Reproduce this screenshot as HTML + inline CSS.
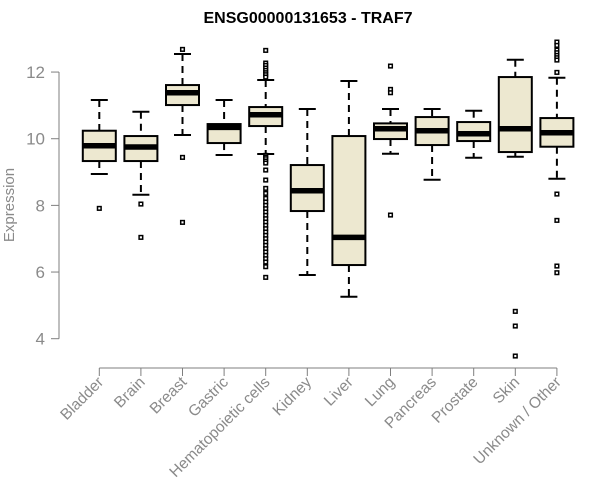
<!DOCTYPE html>
<html><head><meta charset="utf-8"><style>
body{margin:0;background:#fff;}
svg{display:block;font-family:"Liberation Sans",sans-serif;}
</style></head><body>
<svg id="chart" width="600" height="500">
<text x="308" y="23" text-anchor="middle" font-size="16" font-weight="bold" fill="#000">ENSG00000131653 - TRAF7</text>
<text transform="translate(14,205) rotate(-90)" text-anchor="middle" font-size="15" fill="#8a8a8a">Expression</text>
<g id="yaxis"></g>
<g id="xaxis"></g>
<g id="boxes"></g>
</svg>
<script>
const categories=["Bladder","Brain","Breast","Gastric","Hematopoietic cells","Kidney","Liver","Lung","Pancreas","Prostate","Skin","Unknown / Other"];
const whiskerLow=[8.94,8.32,10.11,9.51,9.54,5.91,5.26,9.55,8.77,9.43,9.46,8.8];
const q1=[9.33,9.33,11.01,9.87,10.38,7.83,6.21,9.99,9.81,9.93,9.6,9.76];
const medians=[9.79,9.75,11.38,10.34,10.72,8.44,7.04,10.3,10.24,10.15,10.3,10.18];
const q3=[10.24,10.08,11.61,10.44,10.95,9.21,10.08,10.46,10.65,10.5,11.85,10.62];
const whiskerHigh=[11.16,10.81,12.54,11.16,11.76,10.89,11.73,10.89,10.89,10.84,12.37,11.83];
const outliers=[
 [7.91],
 [8.04,7.04],
 [12.68,9.44,7.49],
 [],
 [12.65,12.27,12.2,12.12,12.05,11.98,11.92,11.85,9.5,9.45,9.4,9.33,9.27,9.06,8.76,8.51,8.36,8.21,8.1,8.0,7.9,7.8,7.7,7.6,7.5,7.4,7.3,7.2,7.1,7.0,6.9,6.8,6.7,6.6,6.5,6.4,6.3,6.16,5.84],
 [],
 [],
 [12.18,11.48,11.38,7.71],
 [],
 [],
 [4.82,4.38,3.48],
 [12.9,12.8,12.66,12.58,12.5,12.43,12.36,11.99,8.34,7.55,6.18,5.98]
];
const yTicks=[4,6,8,10,12];
const NS="http://www.w3.org/2000/svg";
const y=v=>338.7-(v-4)*33.33;
const x=i=>99.3+i*41.6;
function mk(parent,tag,attrs){const e=document.createElementNS(NS,tag);for(const k in attrs)e.setAttribute(k,attrs[k]);parent.appendChild(e);return e;}
const ya=document.getElementById('yaxis');
const axc="#7f7f7f";
mk(ya,'line',{x1:59,x2:59,y1:y(4),y2:y(12),stroke:axc,'stroke-width':1});
yTicks.forEach(t=>{
 const l=mk(ya,'line',{x1:51,x2:59,y1:y(t),y2:y(t),stroke:axc,'stroke-width':1});
 
 
 const tx=mk(ya,'text',{x:45,y:y(t)+6,'text-anchor':'end','font-size':17,fill:'#8a8a8a'});
 tx.textContent=t;
 
 
});
const xa=document.getElementById('xaxis');
mk(xa,'line',{x1:x(0),x2:x(categories.length-1),y1:368,y2:368,stroke:axc,'stroke-width':1});
categories.forEach((c,i)=>{
 const l=mk(xa,'line',{x1:x(i),x2:x(i),y1:368,y2:376,stroke:axc,'stroke-width':1});
 
 
 const tx=mk(xa,'text',{transform:`translate(${x(i)+5},${383}) rotate(-45)`,'text-anchor':'end','font-size':15.5,fill:'#8a8a8a'});
 tx.textContent=c;
 
 
});
const bx=document.getElementById('boxes');
categories.forEach((c,i)=>{
 const g=mk(bx,'g',{});
 
 
 const cx=x(i),hw=16.5,cw=8.5;
 mk(g,'line',{x1:cx,x2:cx,y1:y(whiskerHigh[i]),y2:y(q3[i]),stroke:'#000','stroke-width':2,'stroke-dasharray':'7,5'});
 mk(g,'line',{x1:cx,x2:cx,y1:y(q1[i]),y2:y(whiskerLow[i]),stroke:'#000','stroke-width':2,'stroke-dasharray':'7,5'});
 mk(g,'line',{x1:cx-cw,x2:cx+cw,y1:y(whiskerHigh[i]),y2:y(whiskerHigh[i]),stroke:'#000','stroke-width':2});
 mk(g,'line',{x1:cx-cw,x2:cx+cw,y1:y(whiskerLow[i]),y2:y(whiskerLow[i]),stroke:'#000','stroke-width':2});
 mk(g,'rect',{x:cx-hw,y:y(q3[i]),width:2*hw,height:y(q1[i])-y(q3[i]),fill:'#ede8d0',stroke:'#000','stroke-width':2});
 mk(g,'line',{x1:cx-hw,x2:cx+hw,y1:y(medians[i]),y2:y(medians[i]),stroke:'#000','stroke-width':5.5});
 outliers[i].forEach(v=>{
  const p=mk(g,'rect',{x:cx-1.8,y:y(v)-1.8,width:3.6,height:3.6,fill:'#fff',stroke:'#000','stroke-width':1.5});
  
  
 });
});
</script>
</body></html>
